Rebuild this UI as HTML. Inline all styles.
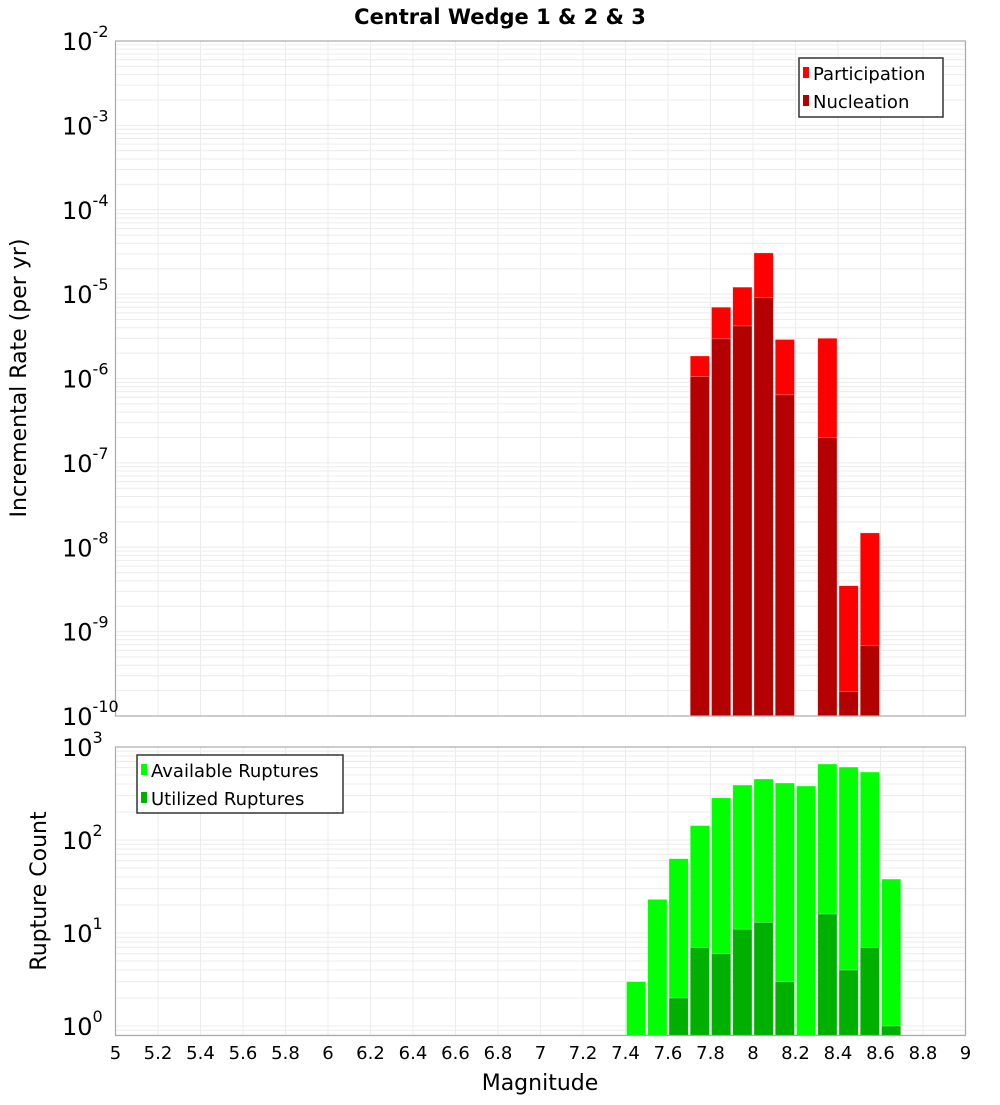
<!DOCTYPE html>
<html><head><meta charset="utf-8"><style>
body{margin:0;background:#fff;}
svg text{font-family:"DejaVu Sans","Liberation Sans",sans-serif;}
</style></head><body>
<svg id="chart" width="1000" height="1100" xmlns="http://www.w3.org/2000/svg">
<text x="500" y="24" text-anchor="middle" font-size="21" font-weight="bold">Central Wedge 1 &amp; 2 &amp; 3</text>
<g id="top"></g>
<g id="bot"></g>
<text transform="translate(26,378) rotate(-90)" text-anchor="middle" font-size="22">Incremental Rate (per yr)</text>
<text transform="translate(46,891) rotate(-90)" text-anchor="middle" font-size="22">Rupture Count</text>
<text x="540" y="1090" text-anchor="middle" font-size="22">Magnitude</text>
<g>
<rect x="799" y="58" width="144" height="59" fill="#fff" stroke="#333" stroke-width="1.5"/>
<rect x="803" y="67" width="6" height="11" fill="#ff0000"/>
<text x="813" y="80" font-size="18">Participation</text>
<rect x="803" y="95" width="6" height="11" fill="#b30000"/>
<text x="813" y="108" font-size="18">Nucleation</text>
</g>
<g>
<rect x="137" y="755" width="206" height="58" fill="#fff" stroke="#333" stroke-width="1.5"/>
<rect x="141" y="764" width="6" height="11" fill="#00ff00"/>
<text x="151" y="777" font-size="18">Available Ruptures</text>
<rect x="141" y="792" width="6" height="11" fill="#00b000"/>
<text x="151" y="805" font-size="18">Utilized Ruptures</text>
</g>
</svg>
<script>
const topMags=[7.75,7.85,7.95,8.05,8.15,8.35,8.45,8.55];
const participation=[1.85e-6,7.0e-6,1.21e-5,3.08e-5,2.9e-6,3.0e-6,3.5e-9,1.48e-8];
const nucleation=[1.05e-6,2.95e-6,4.2e-6,9.1e-6,6.4e-7,2.0e-7,1.95e-10,6.8e-10];
const botMags=[7.45,7.55,7.65,7.75,7.85,7.95,8.05,8.15,8.25,8.35,8.45,8.55,8.65];
const available=[3,23,63,143,284,390,453,410,381,656,609,538,38];
const utilized=[0,0,2,7,6,11,13,3,0,16,4,7,1];
const xTicks=[5,5.2,5.4,5.6,5.8,6,6.2,6.4,6.6,6.8,7,7.2,7.4,7.6,7.8,8,8.2,8.4,8.6,8.8,9];
const topExp=[-2,-3,-4,-5,-6,-7,-8,-9,-10];
const botExp=[3,2,1,0];

const NS="http://www.w3.org/2000/svg";
const L=115.5,R=965.5;
const x=m=>L+(m-5)/4*(R-L);
const T1=41,B1=716,yTop=v=>T1+(-2-Math.log10(v))/8*(B1-T1);
const T2=747,D2=93,B2=1035.5,yBot=v=>T2+(3-Math.log10(v))*D2;
function mk(p,tag,a){const e=document.createElementNS(NS,tag);for(const k in a)e.setAttribute(k,a[k]);p.appendChild(e);return e;}
function grid(g,top,bot,yf,emin,emax){
  for(let e=emin;e<=emax;e++)for(let k=1;k<10;k++){const yy=yf(k*Math.pow(10,e));if(yy<top-0.5||yy>bot+0.5)continue;
    const ln=mk(g,'line',{x1:L,x2:R,y1:yy,y2:yy,stroke:'#ececec','stroke-width':1});
    }
  xTicks.forEach(t=>{const ln=mk(g,'line',{x1:x(t),x2:x(t),y1:top,y2:bot,stroke:'#ececec','stroke-width':1});
    });
}
function bars(g,mags,vals,color,yf,base,name){
  mags.forEach((m,i)=>{if(!vals[i])return;const y0=yf(vals[i]);
    const r=mk(g,'rect',{x:x(m-0.05)+1,y:y0,width:x(m+0.05)-x(m-0.05)-2,height:base-y0,fill:color,stroke:'#fff','stroke-opacity':0.5,'stroke-width':0.6});
    });
}
function ylabel(g,e,yy,nm){const t=mk(g,'text',{x:62,y:yy+9,'font-size':24});
  
  t.textContent='10';const s=mk(t,'tspan',{dy:-13,'font-size':16});s.textContent=String(e);}
const gt=document.getElementById('top'),gb=document.getElementById('bot');
grid(gt,T1,B1,yTop,-10,-3);
bars(gt,topMags,participation,'#ff0000',yTop,B1,'participation-bar');
bars(gt,topMags,nucleation,'#b30000',yTop,B1,'nucleation-bar');
mk(gt,'rect',{x:L,y:T1,width:R-L,height:B1-T1,fill:'none',stroke:'#aaa','stroke-width':1.2});
topExp.forEach(e=>ylabel(gt,e,yTop(Math.pow(10,e)),'y-tick-label-rate'));
grid(gb,T2,B2,yBot,-1,2);
bars(gb,botMags,available,'#00ff00',yBot,B2,'available-bar');
bars(gb,botMags,utilized,'#00b000',yBot,B2,'utilized-bar');
mk(gb,'rect',{x:L,y:T2,width:R-L,height:B2-T2,fill:'none',stroke:'#aaa','stroke-width':1.2});
botExp.forEach(e=>ylabel(gb,e,yBot(Math.pow(10,e)),'y-tick-label-count'));
xTicks.forEach(t=>{const tx=mk(gb,'text',{x:x(t),y:1059,'text-anchor':'middle','font-size':18});
  tx.textContent=String(t);});
</script>
</body></html>
